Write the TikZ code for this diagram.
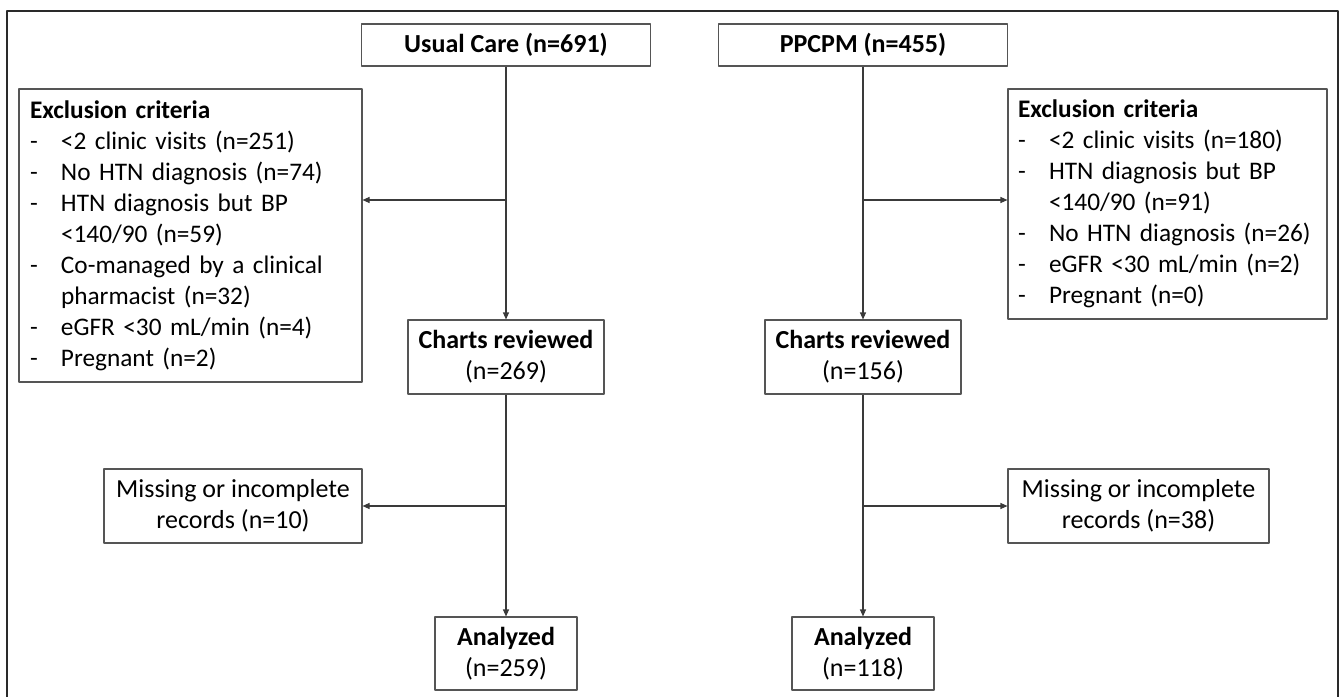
\documentclass[tikz,border=0pt]{standalone}
\usepackage{fontspec}
\setmainfont{Carlito}
\usetikzlibrary{arrows.meta}
\definecolor{boxgray}{HTML}{555555}
\definecolor{linegray}{HTML}{3A3A3A}
\definecolor{framegray}{HTML}{2A2A2A}
\newcommand{\itm}[1]{\mbox{\makebox[31pt][l]{-}#1}}
\newcommand{\cnt}[1]{\mbox{\hspace*{31pt}#1}}
\begin{document}
\begin{tikzpicture}[x=1pt, y=-1pt, line join=round, >={Triangle[length=7pt,width=6pt]},
  font=\fontsize{26}{31}\selectfont,
  box/.style={draw=boxgray, line width=1.1pt, inner sep=0pt, align=center},
  exbox/.style={draw=boxgray, line width=1.1pt, inner ysep=0pt, align=left,
    font=\fontsize{25.3}{31}\selectfont},
  link/.style={draw=linegray, line width=1.1pt}]
\useasboundingbox (0,0) rectangle (1340,696);
\draw[framegray, line width=2pt] (7,720)--(7,11)--(1338,11)--(1338,720);
% top boxes
\node[box, minimum width=289pt, minimum height=42pt, font=\fontsize{26}{31}\selectfont\bfseries] (uc) at (506,45) {Usual Care (n=691)};
\node[box, minimum width=289pt, minimum height=42pt, font=\fontsize{26}{31}\selectfont\bfseries] (pp) at (863,45) {PPCPM (n=455)};
% exclusion criteria
\node[exbox, inner xsep=11pt, text width=321pt, minimum height=293pt] (exL) at (190.5,235.5) {\textbf{Exclusion criteria}\\
\itm{<2 clinic visits (n=251)}\\
\itm{No HTN diagnosis (n=74)}\\
\itm{HTN diagnosis but BP}\\
\cnt{<140/90 (n=59)}\\
\itm{Co-managed by a clinical}\\
\cnt{pharmacist (n=32)}\\
\itm{eGFR <30 mL/min (n=4)}\\
\itm{Pregnant (n=2)}};
\node[exbox, inner xsep=10pt, text width=299pt, minimum height=230pt] (exR) at (1167.5,204) {\textbf{Exclusion criteria}\\
\itm{<2 clinic visits (n=180)}\\
\itm{HTN diagnosis but BP}\\
\cnt{<140/90 (n=91)}\\
\itm{No HTN diagnosis (n=26)}\\
\itm{eGFR <30 mL/min (n=2)}\\
\itm{Pregnant (n=0)}};
% charts reviewed
\node[box, minimum width=196pt, minimum height=74pt] (crL) at (506,357) {\textbf{Charts reviewed}\\(n=269)};
\node[box, minimum width=196pt, minimum height=74pt] (crR) at (863,357) {\textbf{Charts reviewed}\\(n=156)};
% missing records
\node[box, minimum width=258pt, minimum height=74pt] (msL) at (233,506) {Missing or incomplete\\records (n=10)};
\node[box, minimum width=261pt, minimum height=74pt] (msR) at (1138.5,506) {Missing or incomplete\\records (n=38)};
% analyzed
\node[box, minimum width=142pt, minimum height=73pt] (anL) at (506,653.5) {\textbf{Analyzed}\\(n=259)};
\node[box, minimum width=142pt, minimum height=73pt] (anR) at (863,653.5) {\textbf{Analyzed}\\(n=118)};
% connectors
\coordinate (jL1) at (506,200);
\coordinate (jR1) at (863,200);
\coordinate (jL2) at (506,506);
\coordinate (jR2) at (863,506);
\draw[link,->] (uc.south) -- (crL.north);
\draw[link,->] (pp.south) -- (crR.north);
\draw[link,->] (jL1) -- (exL.east |- jL1);
\draw[link,->] (jR1) -- (exR.west |- jR1);
\draw[link,->] (crL.south) -- (anL.north);
\draw[link,->] (crR.south) -- (anR.north);
\draw[link,->] (jL2) -- (msL.east);
\draw[link,->] (jR2) -- (msR.west);
\end{tikzpicture}
\end{document}
